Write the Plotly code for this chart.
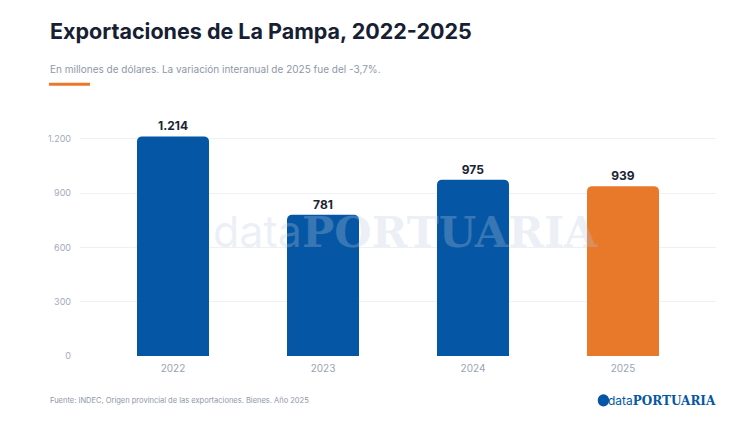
import plotly.graph_objects as go

years = ['2022', '2023', '2024', '2025']
exports = [1214, 781, 975, 939]
bar_colors = ['#0557A5', '#0557A5', '#0557A5', '#E8792B']
y_ticks = [0, 300, 600, 900, 1200]

fig = go.Figure(go.Bar(
    x=years, y=exports,
    marker=dict(color=bar_colors, line=dict(width=0)),
    width=0.48,
    text=exports, texttemplate='<b>%{y:,}</b>', textposition='outside',
    textfont=dict(family='Inter', size=12, color='#1c2434'),
    cliponaxis=False,
    hoverinfo='skip',
))

fig.update_layout(
    width=750, height=422,
    margin=dict(l=72, r=42, t=102, b=74),
    paper_bgcolor='white', plot_bgcolor='white',
    separators=',.',
    barcornerradius=5,
    showlegend=False,
    font=dict(family='Inter', color='#9aa3b5'),
    xaxis=dict(range=[-0.62, 3.62], showgrid=False, showline=False, zeroline=False,
               automargin=False, ticks='', ticklabelstandoff=5,
               tickfont=dict(size=10, color='#9aa3b5')),
    yaxis=dict(range=[0, 1360], tickvals=y_ticks, ticktext=[f'{v:,}'.replace(',', '.') for v in y_ticks],
               showgrid=True, gridcolor='#edf0f5', gridwidth=1, zeroline=False,
               automargin=False, showline=False, ticks='', ticklabelstandoff=8,
               tickfont=dict(size=9, color='#a3abbb')),
)

# titles
fig.add_annotation(text='<b>Exportaciones de La Pampa, 2022-2025</b>',
                   xref='paper', yref='paper', x=-0.05, y=1.0, xanchor='left', yanchor='bottom',
                   yshift=64, showarrow=False,
                   font=dict(family='Inter', size=21.5, color='#172033'))
fig.add_annotation(text='En millones de dólares. La variación interanual de 2025 fue del -3,7%.',
                   xref='paper', yref='paper', x=-0.05, y=1.0, xanchor='left', yanchor='bottom',
                   yshift=33, showarrow=False,
                   font=dict(family='Inter', size=10, color='#8e97a8'))
fig.add_shape(type='line', xref='paper', yref='paper', x0=-0.0487, x1=0.0157, y0=1.105, y1=1.105,
              line=dict(color='#E8792B', width=3))

# watermark
fig.add_annotation(text='data<b><span style="font-family:DejaVu Serif">PORTUARIA</span></b>',
                   xref='paper', yref='paper', x=0.512, y=0.51, showarrow=False,
                   font=dict(family='Inter', size=43, color='rgba(190,200,220,0.28)'))

# footer
fig.add_annotation(text='Fuente: INDEC, Origen provincial de las exportaciones. Bienes. Año 2025',
                   xref='paper', yref='paper', x=-0.05, y=-0.18, xanchor='left', yanchor='middle',
                   showarrow=False, font=dict(family='Inter', size=7.5, color='#8e97a8'))
fig.add_annotation(text='data<b><span style="font-family:DejaVu Serif">PORTUARIA</span></b>',
                   xref='paper', yref='paper', x=1.003, y=-0.18, xanchor='right', yanchor='middle',
                   showarrow=False, font=dict(family='Inter', size=12, color='#0557A5'))
fig.add_shape(type='circle', xref='paper', yref='paper', x0=0.814, x1=0.832, y0=-0.205, y1=-0.155,
              fillcolor='#0557A5', line=dict(width=0))

fig.write_html('out.html')
